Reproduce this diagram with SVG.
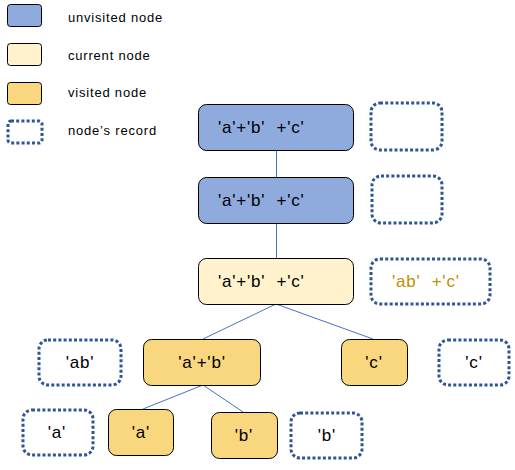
<svg xmlns="http://www.w3.org/2000/svg" width="515" height="470" viewBox="0 0 515 470">
<style>
.unv{fill:#8FAADC;stroke:#000;stroke-width:1}
.cur{fill:#FFF2CC;stroke:#000;stroke-width:1}
.vis{fill:#F9D77E;stroke:#000;stroke-width:1}
.rec{fill:#fff;stroke:#2F5597;stroke-width:3;stroke-dasharray:3 2.2}
.lg{font-family:"Liberation Sans",Arial,sans-serif;font-size:13px;letter-spacing:0.8px;fill:#000}
.t{font-family:"Liberation Sans",Arial,sans-serif;font-size:17px;letter-spacing:0.8px;fill:#000;white-space:pre}
.m{text-anchor:middle}
.gold{fill:#BF9000}
.conn line{stroke:#4472C4;stroke-width:1}
</style>
<rect width="515" height="470" fill="#fff"/>
<g id="legend">
<rect class="unv" x="7.5" y="4.5" width="34" height="22" rx="3"/>
<rect class="cur" x="7.5" y="43.5" width="34" height="22" rx="3"/>
<rect class="vis" x="7.5" y="82.5" width="34" height="22" rx="3"/>
<rect class="rec" x="8" y="121" width="34" height="22" rx="3"/>
<text class="lg" x="68" y="22">unvisited node</text>
<text class="lg" x="68" y="60">current node</text>
<text class="lg" x="68" y="97">visited node</text>
<text class="lg" x="68" y="135">node’s record</text>
</g>
<g class="conn" id="connectors">
<line x1="276.5" y1="150" x2="276.5" y2="177"/>
<line x1="276.5" y1="223" x2="276.5" y2="258"/>
<line x1="276" y1="304" x2="203" y2="339"/>
<line x1="276" y1="304" x2="373" y2="339"/>
<line x1="203" y1="385" x2="143" y2="409"/>
<line x1="203" y1="385" x2="243" y2="412"/>
</g>
<g id="n1"><rect class="unv" x="198.5" y="104.5" width="155" height="46" rx="8"/><text class="t" x="218" y="133">'a'+'b'  +'c'</text></g>
<g id="r1"><rect class="rec" x="371" y="103" width="71" height="47" rx="9"/></g>
<g id="n2"><rect class="unv" x="198.5" y="177.5" width="155" height="46" rx="8"/><text class="t" x="218" y="206">'a'+'b'  +'c'</text></g>
<g id="r2"><rect class="rec" x="372" y="176" width="70" height="47" rx="9"/></g>
<g id="n3"><rect class="cur" x="198.5" y="258.5" width="155" height="46" rx="8"/><text class="t" x="218" y="287">'a'+'b'  +'c'</text></g>
<g id="r3"><rect class="rec" x="371" y="259" width="119" height="45" rx="9"/><text class="t gold" x="392" y="287">'ab'  +'c'</text></g>
<g id="r4"><rect class="rec" x="39" y="340" width="82" height="45" rx="9"/><text class="t m" x="80" y="368">'ab'</text></g>
<g id="n4"><rect class="vis" x="143.5" y="339.5" width="117" height="46" rx="8"/><text class="t m" x="202" y="368">'a'+'b'</text></g>
<g id="n5"><rect class="vis" x="341.5" y="339.5" width="66" height="46" rx="8"/><text class="t m" x="374" y="368">'c'</text></g>
<g id="r5"><rect class="rec" x="439" y="340" width="70" height="45" rx="9"/><text class="t m" x="474" y="368">'c'</text></g>
<g id="r6"><rect class="rec" x="23" y="410" width="70" height="45" rx="9"/><text class="t m" x="57" y="438">'a'</text></g>
<g id="n6"><rect class="vis" x="108.5" y="409.5" width="65" height="46" rx="8"/><text class="t m" x="141" y="438">'a'</text></g>
<g id="n7"><rect class="vis" x="211.5" y="412.5" width="66" height="46" rx="8"/><text class="t m" x="244" y="441">'b'</text></g>
<g id="r7"><rect class="rec" x="291" y="413" width="71" height="45" rx="9"/><text class="t m" x="327" y="441">'b'</text></g>
</svg>
